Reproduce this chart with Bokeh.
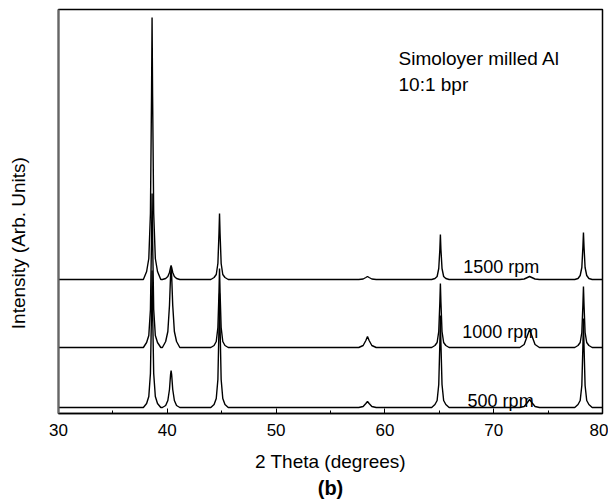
import math
from bokeh.plotting import figure
from bokeh.models import Range1d, SingleIntervalTicker, FixedTicker, Label, Title
from bokeh.embed import file_html
from bokeh.resources import INLINE

# ---- data ----
two_theta = [
    30.0,
    37.8, 38.1, 38.3, 38.45, 38.55, 38.6, 38.65, 38.75, 38.9, 39.1, 39.4,
    39.55, 39.85, 40.05, 40.2, 40.3, 40.35, 40.4, 40.5, 40.65, 40.85, 41.15,
    44.0, 44.3, 44.5, 44.65, 44.75, 44.8, 44.85, 44.95, 45.1, 45.3, 45.6,
    57.6, 58.0, 58.25, 58.4, 58.55, 58.8, 59.2,
    64.3, 64.6, 64.8, 64.95, 65.05, 65.1, 65.15, 65.25, 65.4, 65.6, 65.9,
    72.4, 72.8, 73.1, 73.3, 73.5, 73.8, 74.2,
    77.45, 77.75, 77.95, 78.1, 78.2, 78.25, 78.3, 78.4, 78.55, 78.75, 79.05,
    80.0,
]

rpm1500 = [
    134,
    134, 142, 155, 200, 317, 396, 317, 200, 155, 142, 134,
    134, 135, 137, 141, 146, 148, 146, 141, 137, 135, 134,
    134, 136, 139, 150, 180, 200, 180, 150, 139, 136, 134,
    134, 134.5, 136, 137, 136, 134.5, 134,
    134, 135, 137, 145, 164, 179, 164, 145, 137, 135, 134,
    134, 134.5, 136, 137, 136, 134.5, 134,
    134, 135, 138, 146, 167, 181, 167, 146, 138, 135, 134,
    134,
]

rpm1000 = [
    66,
    66, 71, 78, 104, 174, 220, 174, 104, 78, 71, 66,
    66, 72, 82, 108, 138, 146, 138, 108, 82, 72, 66,
    66, 68, 72, 86, 121, 145, 121, 86, 72, 68, 66,
    66, 68, 73, 77, 73, 68, 66,
    66, 68, 71, 82, 111, 130, 111, 82, 71, 68, 66,
    66, 69, 78, 84, 78, 69, 66,
    66, 68, 71, 81, 109, 127, 109, 81, 71, 68, 66,
    66,
]

rpm500 = [
    6,
    6, 10, 17, 40, 102, 143, 102, 40, 17, 10, 6,
    6, 8, 13, 24, 39, 43, 39, 24, 13, 8, 6,
    6, 9, 15, 34, 86, 120, 86, 34, 15, 9, 6,
    6, 7, 10, 12, 10, 7, 6,
    6, 9, 13, 29, 70, 98, 70, 29, 13, 9, 6,
    6, 7, 11, 14, 11, 7, 6,
    6, 9, 13, 28, 68, 95, 68, 28, 13, 9, 6,
    6,
]

series_labels = ["1500 rpm", "1000 rpm", "500 rpm"]

FONT = "Liberation Sans"

p = figure(width=608, height=502, output_backend="svg", toolbar_location=None,
           x_range=Range1d(30, 80), y_range=Range1d(0, 404),
           min_border_left=58, min_border_right=6, min_border_top=9,
           min_border_bottom=89)

p.background_fill_color = "white"
p.border_fill_color = "white"
p.outline_line_color = "black"
p.outline_line_width = 1.5
p.xgrid.visible = False
p.ygrid.visible = False

for ys in (rpm1500, rpm1000, rpm500):
    p.line(two_theta, ys, line_color="black", line_width=1.4)

# x axis
ax = p.xaxis[0]
ax.ticker = SingleIntervalTicker(interval=10, num_minor_ticks=2)
ax.major_tick_in = 5
ax.major_tick_out = 0
ax.minor_tick_in = 3
ax.minor_tick_out = 0
ax.axis_line_color = "black"
ax.axis_line_width = 1.5
ax.major_tick_line_color = "black"
ax.minor_tick_line_color = "black"
ax.major_label_text_font = FONT
ax.major_label_text_font_size = "17px"
ax.major_label_text_color = "black"
ax.major_label_standoff = 10
ax.axis_label = "2 Theta (degrees)"
ax.axis_label_text_font = FONT
ax.axis_label_text_font_size = "19px"
ax.axis_label_text_font_style = "normal"
ax.axis_label_text_color = "black"
ax.axis_label_standoff = 12

# y axis: line and title only
ay = p.yaxis[0]
ay.ticker = FixedTicker(ticks=[])
ay.major_tick_line_color = None
ay.minor_tick_line_color = None
ay.axis_line_color = "#666666"
ay.axis_line_width = 2
ay.axis_label = "Intensity (Arb. Units)" + "\u00a0" * 12
ay.axis_label_text_font = FONT
ay.axis_label_text_font_size = "19px"
ay.axis_label_text_font_style = "normal"
ay.axis_label_text_color = "black"
ay.axis_label_standoff = 30

p.add_layout(Title(text="(b)", align="center", text_font=FONT,
                   text_font_size="20px", text_font_style="bold",
                   text_color="black", standoff=0, offset=0), "below")

def lab(x, y, text, size, **kw):
    p.add_layout(Label(x=x, y=y, text=text, text_font=FONT,
                       text_font_size=size, text_color="black", **kw))

# series labels
lab(67.2, 147, series_labels[0], "18px", text_baseline="middle")
lab(67.1, 82, series_labels[1], "18px", text_baseline="middle")
lab(67.6, 13, series_labels[2], "18px", text_baseline="middle")

# annotation
lab(61.25, 355, "Simoloyer milled Al", "19px", text_baseline="middle")
lab(61.25, 329, "10:1 bpr", "19px", text_baseline="middle")

open("out.html", "w").write(file_html(p, INLINE))
